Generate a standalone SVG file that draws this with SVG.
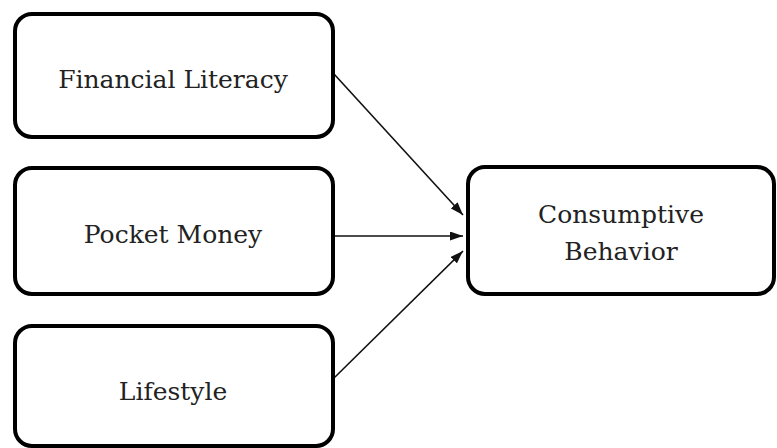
<svg xmlns="http://www.w3.org/2000/svg" width="777" height="448" viewBox="0 0 777 448">
<style>
.box{fill:#fff;stroke:#000;stroke-width:4}
.lbl{font-family:'DejaVu Serif',serif;font-size:25px;fill:#222;text-anchor:middle}
.edge{stroke:#111;stroke-width:1.6;fill:none}
</style>
<defs>
<marker id="ah" viewBox="0 0 13 9" refX="13" refY="4.5" markerWidth="13" markerHeight="9" markerUnits="userSpaceOnUse" orient="auto">
<path d="M0,0 L13,4.5 L0,9 Z" fill="#111"/>
</marker>
</defs>
<rect width="777" height="448" fill="#fff"/>
<g id="edges">
<line class="edge" x1="334" y1="74" x2="463" y2="215" marker-end="url(#ah)"/>
<line class="edge" x1="334" y1="236" x2="463" y2="236" marker-end="url(#ah)"/>
<line class="edge" x1="334" y1="378" x2="463" y2="251" marker-end="url(#ah)"/>
</g>
<g id="financial-literacy">
<rect class="box" x="15" y="14" width="318" height="123" rx="17"/>
<text class="lbl" x="173" y="88">Financial Literacy</text>
</g>
<g id="pocket-money">
<rect class="box" x="15" y="168" width="318" height="126" rx="17"/>
<text class="lbl" x="173" y="243">Pocket Money</text>
</g>
<g id="lifestyle">
<rect class="box" x="15" y="326" width="318" height="120" rx="17"/>
<text class="lbl" x="173" y="400">Lifestyle</text>
</g>
<g id="consumptive-behavior">
<rect class="box" x="468" y="167" width="306" height="127" rx="17"/>
<text class="lbl" x="621" y="223">Consumptive</text>
<text class="lbl" x="621" y="260">Behavior</text>
</g>
</svg>
